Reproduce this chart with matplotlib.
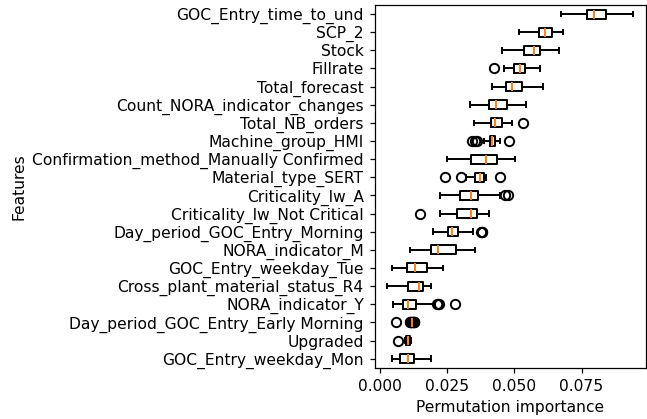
import numpy as np
import matplotlib
matplotlib.use("Agg")
import matplotlib.pyplot as plt

# Features listed top to bottom as in the chart
features = ['GOC_Entry_time_to_und', 'SCP_2', 'Stock', 'Fillrate', 'Total_forecast',
            'Count_NORA_indicator_changes', 'Total_NB_orders', 'Machine_group_HMI',
            'Confirmation_method_Manually Confirmed', 'Material_type_SERT',
            'Criticality_lw_A', 'Criticality_lw_Not Critical',
            'Day_period_GOC_Entry_Morning', 'NORA_indicator_M',
            'GOC_Entry_weekday_Tue', 'Cross_plant_material_status_R4',
            'NORA_indicator_Y', 'Day_period_GOC_Entry_Early Morning',
            'Upgraded', 'GOC_Entry_weekday_Mon']

# box statistics
whislo = [0.0672, 0.0516, 0.0454, 0.0463, 0.0418, 0.0333, 0.0350, 0.0386, 0.0251, 0.0319,
          0.0222, 0.0223, 0.0196, 0.0111, 0.0043, 0.0025, 0.0047, 0.0116, 0.0094, 0.0045]
q1 = [0.0769, 0.0590, 0.0535, 0.0499, 0.0468, 0.0405, 0.0412, 0.0408, 0.0338, 0.0354,
      0.0298, 0.0285, 0.0254, 0.0188, 0.0099, 0.0103, 0.0085, 0.0117, 0.0098, 0.0073]
med = [0.0798, 0.0614, 0.0573, 0.0521, 0.0491, 0.0432, 0.0429, 0.0418, 0.0396, 0.0371,
       0.0338, 0.0337, 0.0268, 0.0215, 0.0130, 0.0145, 0.0104, 0.0119, 0.0104, 0.0104]
q3 = [0.0840, 0.0639, 0.0597, 0.0538, 0.0528, 0.0472, 0.0454, 0.0427, 0.0436, 0.0386,
      0.0365, 0.0359, 0.0291, 0.0281, 0.0173, 0.0161, 0.0135, 0.0121, 0.0110, 0.0125]
whishi = [0.0943, 0.0682, 0.0666, 0.0595, 0.0608, 0.0543, 0.0491, 0.0446, 0.0501, 0.0396,
          0.0446, 0.0406, 0.0347, 0.0355, 0.0235, 0.0188, 0.0203, 0.0122, 0.0114, 0.0191]
fliers = [[], [], [], [0.0423], [], [], [0.0532],
          [0.0342, 0.0353, 0.0360, 0.0480],
          [], [0.0243, 0.0302, 0.0446],
          [0.0465, 0.0478], [0.0149],
          [0.0374, 0.0378, 0.0381], [], [], [],
          [0.0213, 0.0216, 0.0218, 0.0280],
          [0.0059, 0.0111, 0.0113, 0.0114, 0.0115, 0.0116, 0.0123, 0.0124, 0.0125, 0.0127, 0.0128],
          [0.0067], []]

stats = []
for i in range(len(features)):
    stats.append(dict(label=features[i], whislo=whislo[i], q1=q1[i], med=med[i],
                      q3=q3[i], whishi=whishi[i], fliers=fliers[i]))
# bottom feature first so the top row is the most important
stats = stats[::-1]

dpi = 112
lw = 1.25
fig = plt.figure(figsize=(647 / dpi, 419 / dpi), dpi=dpi)
ax = fig.add_axes([0.5791, 0.1224, 0.4194, 0.8657])
ax.bxp(stats, orientation='horizontal', positions=np.arange(1, len(stats) + 1),
       boxprops=dict(linewidth=lw), whiskerprops=dict(linewidth=lw),
       capprops=dict(linewidth=lw), medianprops=dict(linewidth=lw, color='C1'),
       flierprops=dict(markeredgewidth=lw))
ax.set_xlim(-0.002, 0.099)
ax.set_xticks([0.0, 0.025, 0.05, 0.075])
ax.set_xlabel('Permutation importance')
ax.set_ylabel('Features')

fig.savefig('out.png', dpi=dpi)
